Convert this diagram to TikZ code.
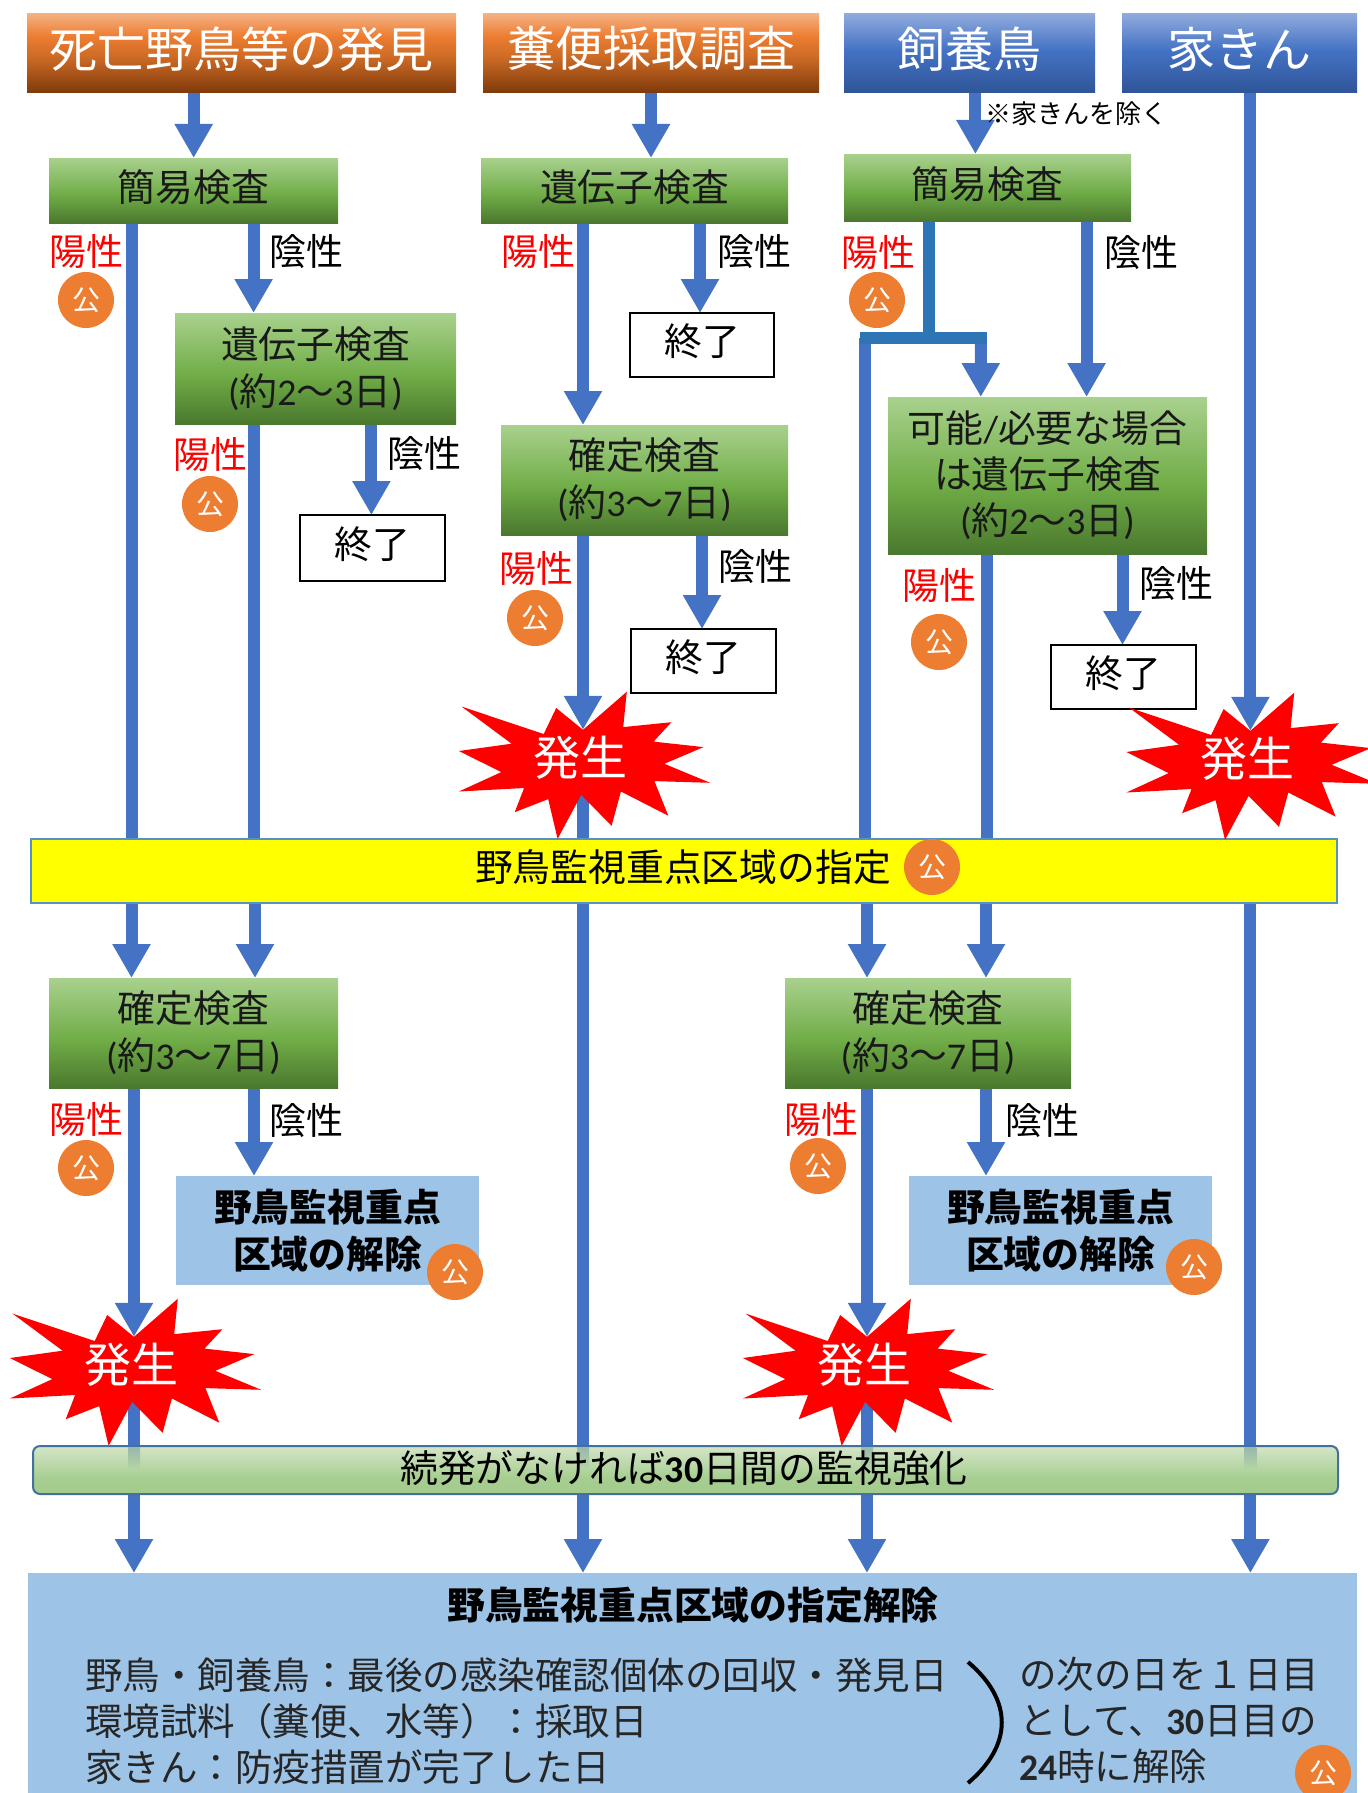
\documentclass[tikz,border=0pt]{standalone}
\usepackage{fontspec}
\setmainfont{Noto Sans CJK JP}
\newfontfamily\lat{Carlito}
\usetikzlibrary{arrows.meta,calc}
\definecolor{shaftc}{HTML}{4472C4}
\definecolor{shaftd}{HTML}{2E75B6}
\definecolor{pale}{HTML}{9DC3E6}
\definecolor{pubc}{HTML}{ED7D31}
\definecolor{bandb}{HTML}{41719C}
\definecolor{yel}{RGB}{255,255,0}
\definecolor{seeptop}{rgb}{0.60,0.72,0.68}
\definecolor{seepbot}{rgb}{0.70,0.83,0.64}
\pgfdeclareverticalshading{orangeg}{100bp}{rgb(0bp)=(0.498,0.224,0.039);rgb(25bp)=(0.498,0.224,0.039);rgb(48bp)=(0.804,0.420,0.149);rgb(61bp)=(0.929,0.490,0.192);rgb(75bp)=(0.957,0.694,0.514);rgb(100bp)=(0.957,0.694,0.514)}
\pgfdeclareverticalshading{blueg}{100bp}{rgb(0bp)=(0.184,0.333,0.592);rgb(25bp)=(0.184,0.333,0.592);rgb(52bp)=(0.267,0.447,0.769);rgb(75bp)=(0.561,0.667,0.863);rgb(100bp)=(0.561,0.667,0.863)}
\pgfdeclareverticalshading{greeng}{100bp}{rgb(0bp)=(0.290,0.471,0.180);rgb(25bp)=(0.290,0.471,0.180);rgb(47bp)=(0.439,0.678,0.278);rgb(75bp)=(0.663,0.820,0.557);rgb(100bp)=(0.663,0.820,0.557)}
\pgfdeclareverticalshading{bandg}{100bp}{rgb(0bp)=(0.635,0.796,0.545);rgb(25bp)=(0.635,0.796,0.545);rgb(42bp)=(0.655,0.808,0.569);rgb(75bp)=(0.835,0.898,0.784);rgb(100bp)=(0.835,0.898,0.784)}
\pgfdeclarelayer{bg}
\pgfsetlayers{bg,main}
\tikzset{
  boxbase/.style={inner sep=0pt,outer sep=0pt,align=center,font=\fontsize{18.9}{23.6}\selectfont},
  headerO/.style={boxbase,shade,shading=orangeg,text=white,font=\fontsize{24}{28}\selectfont},
  headerB/.style={boxbase,shade,shading=blueg,text=white,font=\fontsize{24}{28}\selectfont},
  testbox/.style={boxbase,shade,shading=greeng,text=black!90},
  endbox/.style={boxbase,draw=black,line width=1pt,fill=white},
  clearbox/.style={boxbase,fill=pale,font=\fontsize{18.9}{23.6}\selectfont\bfseries},
  posl/.style={text=red,inner sep=0pt,font=\fontsize{18.5}{22}\selectfont},
  negl/.style={text=black,inner sep=0pt,font=\fontsize{18.5}{22}\selectfont},
  pubn/.style={circle,fill=pubc,text=white,inner sep=0pt,minimum size=28pt,font=\fontsize{14}{16}\selectfont},
  burstt/.style={text=white,inner sep=0pt,font=\fontsize{23.5}{26}\selectfont},
  plain/.style={inner sep=0pt,font=\fontsize{18.9}{23}\selectfont},
  lowtext/.style={inner sep=0pt,anchor=north west,align=left,text=black!85,font=\fontsize{18.75}{23}\selectfont},
  shaft/.style={shaftc,line width=6pt},
  arr/.style={shaft,-{Triangle[length=17pt,width=18pt]}},
  shaftk/.style={shaftd,line width=6pt},
}
\newcommand{\upa}[1]{\raisebox{1.7pt}[\height][\depth]{#1}}
\newcommand{\upb}[1]{\raisebox{2.3pt}[\height][\depth]{#1}}
% box given by its corners, in reference pixels
\newcommand{\boxnode}[7][]{%
  \pgfmathsetmacro{\bw}{(#5-#3)*0.5}%
  \pgfmathsetmacro{\bh}{(#6-#4)*0.5}%
  \pgfmathsetmacro{\bx}{(#3+#5)/2}%
  \pgfmathsetmacro{\by}{(#4+#6)/2}%
  \node[#1,minimum width=\bw pt,minimum height=\bh pt] (#2) at (\bx,\by) {#7};}
\newcommand{\burstshape}[3]{%
\begin{scope}[shift={(#2,#3)}]
\fill[red] (-121.4,-54.4)--(-39.3,-27)--(-26.8,-53)--(0,-31.2)--(43.8,-69.3)--(40.2,-33.9)--(88.4,-38.8)--(70.5,-19.4)--(120.5,-13.9)--(81.3,2.8)--(127.2,21.8)--(71.4,20.1)--(85.3,54.7)--(37.9,30.5)--(28.6,64.8)--(-1.8,33.9)--(-25.4,77.9)--(-34.8,38.1)--(-68.3,51.2)--(-58.9,27)--(-124.1,30.5)--(-81.7,11.1)--(-124.1,-10)--(-71.4,-17.3)--cycle;
\coordinate (#1tip) at (0,-31.2);
\coordinate (#1out) at (0,30);
\node[burstt] (#1) at (-3,-3) {発生};
\end{scope}}
\begin{document}
\begin{tikzpicture}[x=0.5pt,y=-0.5pt]
\useasboundingbox (0,0) rectangle (1368,1793);
\clip (0,0) rectangle (1368,1793);
% headers
\boxnode[headerO]{h1}{27}{14}{456}{93}{\upb{死亡野鳥等の発見}}
\boxnode[headerO]{h2}{483}{14}{819}{93}{\upb{糞便採取調査}}
\boxnode[headerB]{h3}{844}{14}{1095}{93}{\upb{飼養鳥}}
\boxnode[headerB]{h4}{1122}{14}{1357}{93}{\upb{家きん}}
% column 1
\boxnode[testbox]{g1}{49}{158}{338}{223}{\upa{簡易検査}}
\boxnode[testbox]{gene1}{175}{313}{456}{424}{遺伝子検査\\{\lat(}約{\lat 2}〜{\lat 3}日{\lat)}}
\boxnode[endbox]{end1}{300}{515}{445}{581}{\upa{終了}}
\node[posl] (p1) at (86,251) {陽性};
\node[pubn] (k1) at (86,300) {公};
\node[negl] (n1) at (306,251) {陰性};
\node[posl] (p2) at (210,454) {陽性};
\node[pubn] (k2) at (210,504) {公};
\node[negl] (n2) at (424,453) {陰性};
% column 2
\boxnode[testbox]{gene2}{481}{158}{788}{223}{\upa{遺伝子検査}}
\boxnode[endbox]{end2}{630}{313}{774}{377}{\upa{終了}}
\boxnode[testbox]{c2}{501}{425}{788}{535}{確定検査\\{\lat(}約{\lat 3}〜{\lat 7}日{\lat)}}
\boxnode[endbox]{end3}{631}{629}{776}{693}{\upa{終了}}
\node[posl] (p3) at (538,251) {陽性};
\node[negl] (n3) at (754,251) {陰性};
\node[posl] (p4) at (536,568) {陽性};
\node[pubn] (k4) at (535,618) {公};
\node[negl] (n4) at (755,566) {陰性};
% column 3
\boxnode[testbox]{g3}{844}{154}{1131}{221}{\upa{簡易検査}}
\node[plain,anchor=west,font=\fontsize{13}{15}\selectfont] (note) at (985,114) {※家きんを除く};
\boxnode[testbox,font=\fontsize{18.9}{23}\selectfont]{gene4}{888}{397}{1207}{554}{可能{\lat/}必要な場合\\は遺伝子検査\\{\lat(}約{\lat 2}〜{\lat 3}日{\lat)}}
\boxnode[endbox]{end4}{1051}{645}{1196}{709}{\upa{終了}}
\node[posl] (p5) at (878,252) {陽性};
\node[pubn] (k5) at (877,300) {公};
\node[negl] (n5) at (1141,252) {陰性};
\node[posl] (p6) at (939,585) {陽性};
\node[pubn] (k6) at (939,642) {公};
\node[negl] (n6) at (1176,583) {陰性};
\coordinate (jm) at (929.3,338);
\coordinate (jl) at (860,338);
\coordinate (jr) at (986.6,338);
% yellow band
\boxnode[boxbase,draw=shaftd!80,line width=.8pt,fill=yel]{band}{31}{839}{1337}{903}{}
\node[plain] (bandt) at (683,867) {野鳥監視重点区域の指定};
\node[pubn] (kb) at (932,867) {公};
% lower boxes
\boxnode[testbox]{c1}{49}{978}{338}{1088}{確定検査\\{\lat(}約{\lat 3}〜{\lat 7}日{\lat)}}
\node[posl] (p7) at (86,1119) {陽性};
\node[pubn] (k7) at (86,1168) {公};
\node[negl] (n7) at (306,1120) {陰性};
\boxnode[clearbox]{kai1}{176}{1176}{479}{1285}{野鳥監視重点\\区域の解除}
\node[pubn] (k8) at (455,1272) {公};
\boxnode[testbox]{c4}{785}{978}{1071}{1088}{確定検査\\{\lat(}約{\lat 3}〜{\lat 7}日{\lat)}}
\node[posl] (p9) at (821,1119) {陽性};
\node[pubn] (k9) at (818,1166) {公};
\node[negl] (n9) at (1042,1120) {陰性};
\boxnode[clearbox]{kai2}{909}{1176}{1212}{1285}{野鳥監視重点\\区域の解除}
\node[pubn] (k10) at (1194,1267) {公};
% bursts
\burstshape{b2}{583}{761}
\burstshape{b5}{1250.4}{762}
\burstshape{b1}{134}{1368}
\burstshape{b3}{867}{1368}
% second band
\boxnode[boxbase,shade,shading=bandg,draw=bandb,line width=1pt,rounded corners=3.5pt]{band2}{33}{1446}{1338}{1494}{}
\foreach \sx in {134,583,867,1250.4}{
  \shade[top color=seeptop,bottom color=seepbot] (\sx-6,1447) rectangle (\sx+6,1468);
}
\node[plain] (bandt2) at (684,1468) {続発がなければ{\lat\bfseries 30}日間の監視強化};
% final box
\boxnode[boxbase,fill=pale]{final}{28}{1573}{1357}{1800}{}
\node[plain,font=\fontsize{18.9}{23}\selectfont\bfseries] (ftitle) at (693,1605) {野鳥監視重点区域の指定解除};
\node[lowtext] (fleft) at (85,1657) {野鳥・飼養鳥：最後の感染確認個体の回収・発見日\\環境試料（糞便、水等）：採取日\\家きん：防疫措置が完了した日};
\node[lowtext] (fright) at (1019,1657) {の次の日を１日目\\として、{\lat\bfseries 30}日目の\\{\lat\bfseries 24}時に解除};
\coordinate (brt) at (968,1662);
\coordinate (brb) at (968,1783);
\draw[black,line width=2pt] (brt) .. controls (1013,1700) and (1013,1745) .. (brb);
\node[pubn] (k11) at (1323,1773) {公};
% connectors
\begin{pgfonlayer}{bg}
\draw[arr] (h1.south -| 193.7,0) -- (g1.north -| 193.7,0);
\draw[shaft] (g1.south -| 131.7,0) -- (band.north -| 131.7,0);
\draw[arr] (g1.south -| 253.6,0) -- (gene1.north -| 253.6,0);
\draw[shaft] (gene1.south -| 253.6,0) -- (band.north -| 253.6,0);
\draw[arr] (gene1.south -| 371.4,0) -- (end1.north -| 371.4,0);
\draw[arr] (h2.south -| 651,0) -- (gene2.north -| 651,0);
\draw[arr] (gene2.south -| 583,0) -- (c2.north -| 583,0);
\draw[arr] (gene2.south -| 700,0) -- (end2.north -| 700,0);
\draw[arr] (c2.south -| 583,0) -- (b2tip);
\draw[arr] (c2.south -| 702,0) -- (end3.north -| 702,0);
\draw[shaft] (b2out) -- (band.north -| 583,0);
\draw[arr] (band.south -| 583,0) -- (final.north -| 583,0);
\draw[arr] (band.south -| 131.5,0) -- (c1.north -| 131.5,0);
\draw[arr] (band.south -| 255,0) -- (c1.north -| 255,0);
\draw[arr] (c1.south -| 134,0) -- (b1tip);
\draw[arr] (c1.south -| 254,0) -- (kai1.north -| 254,0);
\draw[arr] (b1out) -- (final.north -| 134,0);
\draw[arr] (h3.south -| 975.4,0) -- (g3.north -| 975.4,0);
\draw[shaft] (jl) ++(5,0) -- (band.north -| 865,0);
\draw[arr] (jr) ++(-5.8,0) -- (gene4.north -| 980.8,0);
\draw[shaftk] (g3.south -| jm) -- (jm);
\draw[shaftk] (jl) -- (jr);
\draw[arr] (g3.south -| 1086.6,0) -- (gene4.north -| 1086.6,0);
\draw[shaft] (gene4.south -| 986.6,0) -- (band.north -| 986.6,0);
\draw[arr] (gene4.south -| 1122.5,0) -- (end4.north -| 1122.5,0);
\draw[arr] (band.south -| 867,0) -- (c4.north -| 867,0);
\draw[arr] (band.south -| 986,0) -- (c4.north -| 986,0);
\draw[arr] (c4.south -| 867,0) -- (b3tip);
\draw[arr] (c4.south -| 986,0) -- (kai2.north -| 986,0);
\draw[arr] (b3out) -- (final.north -| 867,0);
\draw[arr] (h4.south -| 1250.4,0) -- (b5tip);
\draw[arr] (band.south -| 1250.4,0) -- (final.north -| 1250.4,0);
\end{pgfonlayer}
\end{tikzpicture}
\end{document}
